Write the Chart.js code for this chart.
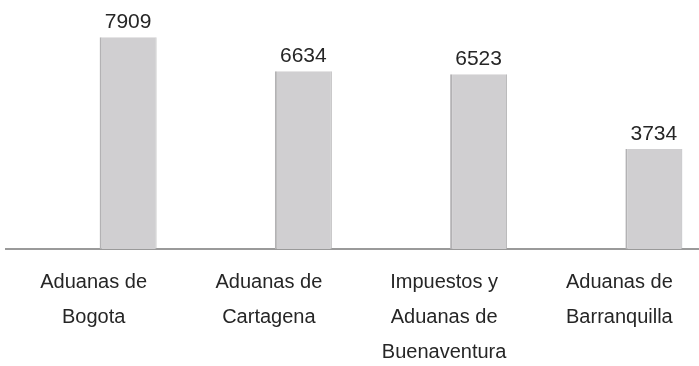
<!DOCTYPE html>
<html>
<head>
<meta charset="utf-8">
<script src="https://cdn.jsdelivr.net/npm/chart.js@4/dist/chart.umd.min.js"></script>
<style>
    html, body {
        margin: 0;
        padding: 0;
        background: #ffffff;
        overflow: hidden;
    }
    #wrap {
        position: relative;
        width: 707px;
        height: 386px;
    }
</style>
</head>
<body>
<div id="wrap"><canvas id="aduanasChart"></canvas></div>
<script>
const categories = [
    ['Aduanas de', 'Bogota'],
    ['Aduanas de', 'Cartagena'],
    ['Impuestos y', 'Aduanas de', 'Buenaventura'],
    ['Aduanas de', 'Barranquilla']
];
const emptySeries = [null, null, null, null];
const declaraciones = [7909, 6634, 6523, 3734];

// dibuja el valor encima de cada barra
const valueLabels = {
    id: 'valueLabels',
    afterDatasetsDraw(chart) {
        const ctx = chart.ctx;
        const meta = chart.getDatasetMeta(1);
        ctx.save();
        ctx.font = '21px "Liberation Sans", Arial, sans-serif';
        ctx.fillStyle = '#262626';
        ctx.textAlign = 'center';
        ctx.textBaseline = 'alphabetic';
        meta.data.forEach((bar, i) => {
            ctx.fillText(String(declaraciones[i]), bar.x, bar.y - 9);
        });
        ctx.restore();
    }
};

const ctx = document.getElementById('aduanasChart').getContext('2d');

new Chart(ctx, {
    type: 'bar',
    data: {
        labels: categories,
        datasets: [{
            label: '',
            data: emptySeries,
            backgroundColor: 'rgba(0,0,0,0)'
        }, {
            label: 'Declaraciones',
            data: declaraciones,
            backgroundColor: '#d0cfd1',
            borderColor: '#b3b2b4',
            borderWidth: { left: 2, right: 1, top: 0, bottom: 0 },
            borderSkipped: false
        }]
    },
    options: {
        responsive: true,
        maintainAspectRatio: false,
        animation: false,
        categoryPercentage: 0.787,
        barPercentage: 0.826,
        layout: {
            padding: { top: 8, left: 6, right: 0, bottom: 0 }
        },
        scales: {
            x: {
                grid: { display: false, drawTicks: false },
                border: { display: true, color: '#9a9a9a', width: 2 },
                ticks: {
                    autoSkip: false,
                    maxRotation: 0,
                    padding: 16,
                    color: '#262626',
                    font: {
                        family: '"Liberation Sans", Arial, sans-serif',
                        size: 20,
                        lineHeight: 1.75
                    }
                }
            },
            y: {
                display: false,
                min: 0,
                max: 9000
            }
        },
        plugins: {
            legend: { display: false },
            tooltip: { enabled: false }
        }
    },
    plugins: [valueLabels]
});
</script>
</body>
</html>
